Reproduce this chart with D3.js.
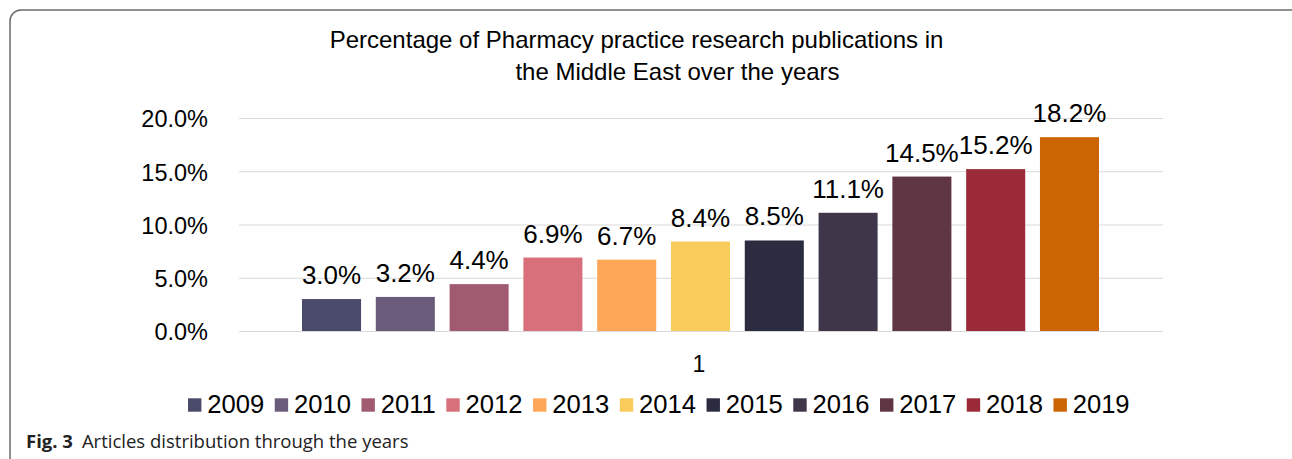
<!DOCTYPE html>
<html>
<head>
<meta charset="utf-8">
<script src="https://cdn.jsdelivr.net/npm/d3@7"></script>
<style>
  body { margin: 0; background: #fff; }
  svg { display: block; }
</style>
</head>
<body>
<svg width="1292" height="459"></svg>
<script>
// ---- data ----
const years = ["2009","2010","2011","2012","2013","2014","2015","2016","2017","2018","2019"];
const shares = [3.0, 3.2, 4.4, 6.9, 6.7, 8.4, 8.5, 11.1, 14.5, 15.2, 18.2];
const barColors = ["#4a4a6a","#6b5b7a","#a05b70","#d8707b","#fea759","#f9cb5b",
                   "#2c2c40","#3f3649","#603544","#9a2a37","#cb6402"];
const yTicks = [0, 5, 10, 15, 20];
const category = ["1"];

const svg = d3.select("svg");
const font = "'Liberation Sans', Arial, sans-serif";

// frame
svg.append("rect")
  .attr("x", 10).attr("y", 10)
  .attr("width", 1300).attr("height", 480)
  .attr("rx", 11)
  .attr("fill", "none").attr("stroke", "#6b6b6b").attr("stroke-width", 1.5);

// title
const title = svg.append("text")
  .attr("font-family", font).attr("font-size", 24).attr("fill", "#000");
title.append("tspan").attr("x", 636.5).attr("y", 48).attr("text-anchor", "middle")
  .text("Percentage of Pharmacy practice research publications in");
title.append("tspan").attr("x", 677.5).attr("y", 80).attr("text-anchor", "middle")
  .text("the Middle East over the years");

// scales
const plot = {left: 239, right: 1163, top: 118, bottom: 331};
const y = d3.scaleLinear().domain([0, 20]).range([plot.bottom, plot.top]);
const xCat = d3.scaleBand().domain(category).range([plot.left, plot.right]);
const xYear = d3.scaleBand().domain(years)
  .range([302, 1099]).paddingInner(0.2).paddingOuter(0);

// gridlines
const grid = d3.axisLeft(y).tickValues(yTicks)
  .tickSize(-(plot.right - plot.left)).tickFormat("");
svg.append("g").attr("transform", `translate(${plot.left},0)`).call(grid)
  .call(g => g.select(".domain").remove())
  .call(g => g.selectAll("line").attr("stroke", "#d9d9d9").attr("stroke-width", 1.2));

// y labels
const yAxis = d3.axisLeft(y).tickValues(yTicks).tickSize(0)
  .tickFormat(d => d.toFixed(1) + "%");
svg.append("g").attr("transform", `translate(${plot.left},0)`).call(yAxis)
  .call(g => g.select(".domain").remove())
  .call(g => g.selectAll("text").attr("x", -31).attr("dy", "0.38em")
    .attr("font-family", font).attr("font-size", 23.5).attr("fill", "#000"));

// bars
svg.append("g").selectAll("rect")
  .data(years)
  .join("rect")
  .attr("x", d => xYear(d))
  .attr("width", xYear.bandwidth())
  .attr("y", (d, i) => y(shares[i]))
  .attr("height", (d, i) => y(0) - y(shares[i]))
  .attr("fill", (d, i) => barColors[i]);

// value labels
svg.append("g").selectAll("text")
  .data(years)
  .join("text")
  .attr("x", d => xYear(d) + xYear.bandwidth() / 2)
  .attr("y", (d, i) => y(shares[i]) - 15)
  .attr("text-anchor", "middle")
  .attr("font-family", font).attr("font-size", 26).attr("fill", "#000")
  .text((d, i) => shares[i].toFixed(1) + "%");

// category axis label
svg.append("g").attr("transform", `translate(0,${plot.bottom})`)
  .call(d3.axisBottom(xCat).tickSize(0))
  .call(g => g.select(".domain").remove())
  .call(g => g.selectAll("text").attr("x", -2).attr("y", 41).attr("dy", 0)
    .attr("font-family", font).attr("font-size", 23).attr("fill", "#000"));

// legend
const legend = svg.append("g").attr("transform", "translate(188,398.3)");
let lx = 0;
years.forEach((yr, i) => {
  const item = legend.append("g").attr("transform", `translate(${lx},0)`);
  item.append("rect").attr("width", 13.4).attr("height", 13.4).attr("fill", barColors[i]);
  const t = item.append("text").attr("x", 19.2).attr("y", 15)
    .attr("font-family", font).attr("font-size", 25.6).attr("fill", "#000").text(yr);
  lx += 19.2 + t.node().getComputedTextLength() + 10.6;
});

// caption
const cap = svg.append("text").attr("x", 26).attr("y", 448)
  .attr("font-family", "'Open Sans', 'Noto Sans', sans-serif").attr("font-size", 18.5).attr("fill", "#222");
cap.append("tspan").attr("font-weight", "bold").text("Fig. 3");
cap.append("tspan").attr("dx", 9).text("Articles distribution through the years");
</script>
</body>
</html>
